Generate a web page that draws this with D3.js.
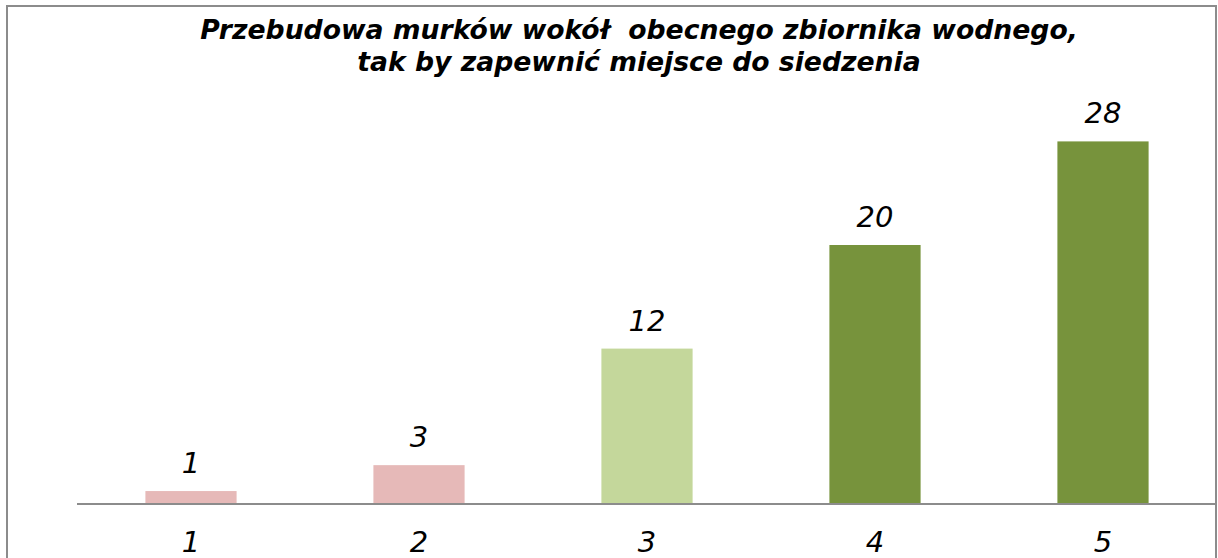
<!DOCTYPE html>
<html>
<head>
<meta charset="utf-8">
<script src="https://cdn.jsdelivr.net/npm/d3@7"></script>
<style>
  html, body { margin: 0; padding: 0; background: #fff; }
  svg { display: block; }
</style>
</head>
<body>
<svg id="chart" width="1218" height="558"></svg>
<script>
const titleLines = ["Przebudowa murków wokół  obecnego zbiornika wodnego,", "tak by zapewnić miejsce do siedzenia"];
const categories = ["1", "2", "3", "4", "5"];
const values = [1, 3, 12, 20, 28];
const colors = ["#E6B9B8", "#E6B9B8", "#C4D79B", "#77933C", "#77933C"];

const svg = d3.select("#chart");

// outer frame
svg.append("rect")
  .attr("x", 7).attr("y", 6)
  .attr("width", 1209).attr("height", 600)
  .attr("fill", "#fff")
  .attr("stroke", "#8c8c8c")
  .attr("stroke-width", 2);

const x = d3.scaleBand()
  .domain(categories)
  .range([77, 1217])
  .paddingInner(0.6)
  .paddingOuter(0.3);

const baseY = 504;
const y = d3.scaleLinear()
  .domain([0, 30])
  .range([baseY, baseY - 30 * 12.95]);

// title
const title = svg.append("text")
  .attr("text-anchor", "middle")
  .attr("font-family", "DejaVu Sans, Verdana, sans-serif")
  .attr("font-weight", "bold")
  .attr("font-style", "italic")
  .attr("font-size", 24)
  .attr("fill", "#000")
  .style("white-space", "pre")
  .attr("xml:space", "preserve");
const tsp = title.selectAll("tspan")
  .data(titleLines)
  .join("tspan")
  .attr("x", 639)
  .attr("y", (d, i) => 39 + i * 32)
  .text(d => d);
// fit first line to the reference width (~880px)
const w0 = tsp.nodes()[0].getComputedTextLength();
if (w0 > 0) {
  const fs = Math.min(28, 24 * 878 / w0);
  title.attr("font-size", fs);
}

// bars
svg.append("g")
  .selectAll("rect")
  .data(values)
  .join("rect")
  .attr("x", (d, i) => x(categories[i]))
  .attr("width", x.bandwidth())
  .attr("y", d => y(d))
  .attr("height", d => y(0) - y(d))
  .attr("fill", (d, i) => colors[i]);

// value labels
svg.append("g")
  .selectAll("text")
  .data(values)
  .join("text")
  .attr("x", (d, i) => x(categories[i]) + x.bandwidth() / 2)
  .attr("y", d => y(d) - 18)
  .attr("text-anchor", "middle")
  .attr("font-family", "DejaVu Sans, Verdana, sans-serif")
  .attr("font-style", "italic")
  .attr("font-size", 29)
  .attr("fill", "#000")
  .text(d => d);

// x axis
const axis = svg.append("g")
  .attr("transform", `translate(0,${baseY})`)
  .call(d3.axisBottom(x).tickSize(0).tickPadding(0));
axis.select(".domain")
  .attr("d", "M77,0H1216")
  .attr("stroke", "#8c8c8c")
  .attr("stroke-width", 2);
axis.selectAll(".tick text")
  .attr("y", 48)
  .attr("dy", null)
  .attr("font-family", "DejaVu Sans, Verdana, sans-serif")
  .attr("font-style", "italic")
  .attr("font-size", 29)
  .attr("fill", "#000");
</script>
</body>
</html>
